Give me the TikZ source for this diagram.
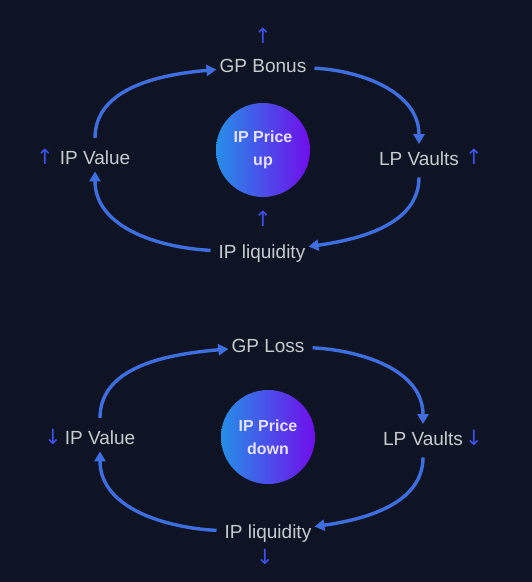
\documentclass[tikz,border=0pt]{standalone}
\usepackage{fontspec}
\setmainfont{Liberation Sans}
\newfontfamily\symfont{DejaVu Sans}
\usetikzlibrary{arrows.meta}

\definecolor{bgnavy}{RGB}{14,20,35}
\definecolor{labelgrey}{RGB}{200,203,210}
\definecolor{flowblue}{RGB}{62,110,225}
\definecolor{markblue}{RGB}{62,82,240}
\definecolor{hubleft}{RGB}{38,142,232}
\definecolor{hubright}{RGB}{112,14,236}
\definecolor{hubtext}{RGB}{228,226,255}

\tikzstyle{term}=[anchor=base, inner xsep=3pt, inner ysep=7pt, text=labelgrey, font=\fontsize{19}{22}\selectfont]
\tikzstyle{trend}=[text=markblue, inner sep=0pt, font=\symfont\fontsize{21}{24}\selectfont]
\tikzstyle{hub}=[circle, minimum size=94pt, inner sep=0pt, left color=hubleft, right color=hubright, text=hubtext, align=center, font=\bfseries\fontsize{16}{23}\selectfont]
\tikzstyle{flow} = [draw, line width=3.4pt, flowblue, shorten <=5pt, -{Triangle[length=10pt,width=11pt]}]

\begin{document}
\begin{tikzpicture}[x=1pt, y=1pt]
	    \fill[bgnavy] (0,0) rectangle (532,-582);
	    \useasboundingbox (0,0) rectangle (532,-582);
	    % price up loop
	    \node[hub] (hubA) at (263,-150) {IP Price\\up};
	    \foreach \pos/\name/\txt in {{(263,-72)/gpA/GP Bonus}, {(95,-164)/valA/IP Value}, {(419,-165)/lpA/LP Vaults}, {(262,-258)/liqA/IP liquidity}}
	        \node[term] (\name) at \pos {\txt};
	    \foreach \pos/\name in {{(263,-36)/mgpA}, {(45,-157)/mvalA}, {(474,-157)/mlpA}, {(263,-219)/mliqA}}
	        \node[trend] (\name) at \pos {↑};
	    \foreach \source/\dest/\o/\i in {valA/gpA/90/185, gpA/lpA/-3/90, lpA/liqA/-90/8, liqA/valA/177/-90}
			\path[flow] (\source) to[out=\o, in=\i] (\dest);
	    % price down loop
	    \node[hub] (hubB) at (268,-437) {IP Price\\down};
	    \foreach \pos/\name/\txt in {{(268,-352)/gpB/GP Loss}, {(100,-444)/valB/IP Value}, {(423,-445)/lpB/LP Vaults}, {(268,-538)/liqB/IP liquidity}}
	        \node[term] (\name) at \pos {\txt};
	    \foreach \pos/\name in {{(53,-437)/mvalB}, {(474,-438)/mlpB}, {(265,-557)/mliqB}}
	        \node[trend] (\name) at \pos {↓};
	    \foreach \source/\dest/\o/\i in {valB/gpB/90/185, gpB/lpB/-3/90, lpB/liqB/-90/8, liqB/valB/177/-90}
			\path[flow] (\source) to[out=\o, in=\i] (\dest);
	\end{tikzpicture}
\end{document}
